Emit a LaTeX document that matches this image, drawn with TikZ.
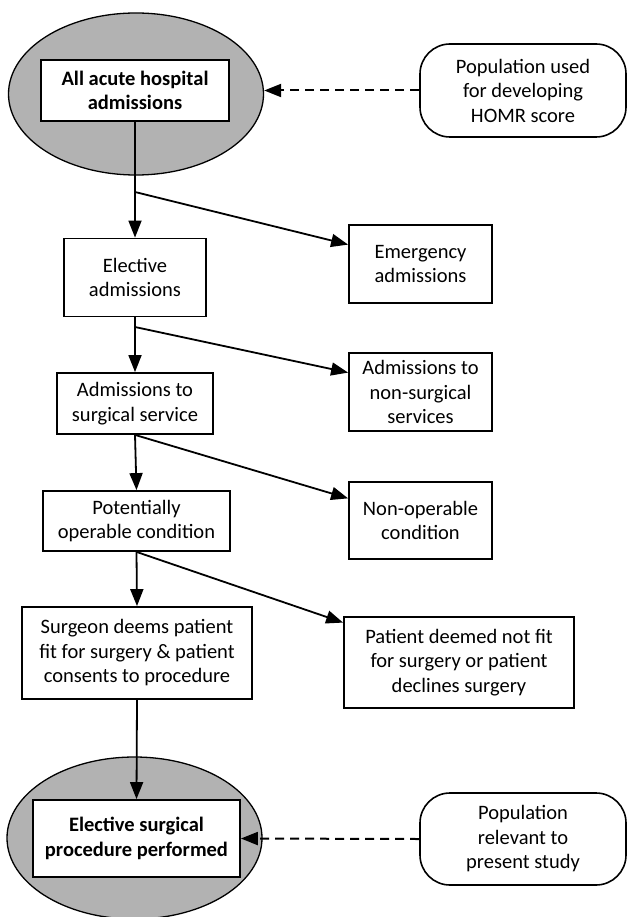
\documentclass[tikz,border=0pt]{standalone}
\usepackage{fontspec}
\setmainfont{Carlito}
\usetikzlibrary{shapes.geometric,arrows.meta,positioning}
\tikzset{
flowbox/.style={
  draw,
  line width=1.8pt,
  fill=white,
  align=center,
  inner sep=2pt,
  font=\fontsize{20.5}{24.5}\selectfont
  },
boldbox/.style={
  flowbox,
  font=\fontsize{20.5}{24.5}\selectfont\bfseries
  },
popbox/.style={
  flowbox,
  line width=1.6pt,
  rounded corners=30pt
  },
popell/.style={
  ellipse,
  draw,
  line width=1.3pt,
  fill=gray!60
  },
flowarr/.style={->,line width=1.8pt},
dasharr/.style={->,dash pattern=on 9pt off 6pt,line width=2pt}
}

\begin{document}
\begin{tikzpicture}[>={Triangle[length=17pt,width=13pt]},x=1pt,y=-1pt]
\useasboundingbox (0,0) rectangle (627,917);

\node[popell,minimum width=255pt,minimum height=162pt] (allell) at (136,94) {};
\node[boldbox,minimum width=188pt,minimum height=61pt] (allbox) at (135,90.5)
  {All acute hospital\\admissions};

\node[popbox,minimum width=206pt,minimum height=93pt] (homr) at (523,90.5)
  {Population used\\for developing\\HOMR score};

\node[flowbox,minimum width=142pt,minimum height=78pt] (elective) at (135,277.5)
  {Elective\\admissions};
\node[flowbox,minimum width=143pt,minimum height=78pt] (emerg) at (420.5,264)
  {Emergency\\admissions};

\node[flowbox,minimum width=156pt,minimum height=61pt] (surg) at (135,403.5)
  {Admissions to\\surgical service};
\node[flowbox,minimum width=143pt,minimum height=78pt] (nonsurg) at (420.5,392)
  {Admissions to\\non-surgical\\services};

\node[flowbox,minimum width=187pt,minimum height=60pt] (potop) at (136.5,521)
  {Potentially\\operable condition};
\node[flowbox,minimum width=143pt,minimum height=77pt] (nonop) at (420.5,520.5)
  {Non-operable\\condition};

\node[flowbox,minimum width=230pt,minimum height=92pt] (surgeon) at (137,653)
  {Surgeon deems patient\\fit for surgery \& patient\\consents to procedure};
\node[flowbox,minimum width=230pt,minimum height=91pt] (notfit) at (459,662.5)
  {Patient deemed not fit\\for surgery or patient\\declines surgery};

\node[popell,minimum width=255pt,minimum height=162pt] (procell) at (134.5,838) {};
\node[boldbox,minimum width=207pt,minimum height=77pt] (procbox) at (136.5,838.5)
  {Elective surgical\\procedure performed};

\node[popbox,minimum width=206pt,minimum height=92pt] (study) at (523,839)
  {Population\\relevant to\\present study};

\coordinate (b1) at (135,192);
\coordinate (b2) at (135,327);

\draw[flowarr] (allbox.south) -- (elective.north);
\draw[flowarr] (b1) -- (emerg.165);
\draw[flowarr] (elective.south) -- (surg.north);
\draw[flowarr] (b2) -- (nonsurg.165);
\draw[flowarr] (surg.south) -- (potop.north);
\draw[flowarr] (surg.south) -- (nonop.163);
\draw[flowarr] (potop.south) -- (surgeon.north);
\draw[flowarr] (potop.south) -- (notfit.161);
\draw[flowarr] (surgeon.south) -- (procbox.north);

\draw[dasharr] (homr.west) -- (allell.east |- homr.west);
\draw[dasharr] (study.west) -- (procbox.east);
\end{tikzpicture}
\end{document}
